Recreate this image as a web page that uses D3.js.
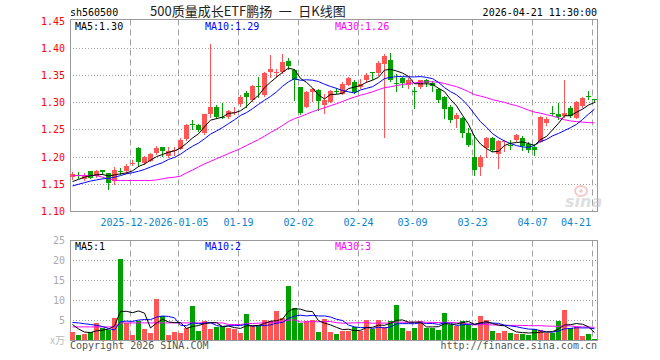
<!DOCTYPE html>
<html>
<head>
<meta charset="utf-8">
<script src="https://cdn.jsdelivr.net/npm/d3@7"></script>
<style>
  body { margin: 0; background: #fff; }
  text { font-family: "DejaVu Sans Mono", monospace; font-size: 10px; }
</style>
</head>
<body>
<svg id="chart" width="660" height="360"></svg>
<script>
// trading days shown on the chart
const dates = [
  '2025-12-08','2025-12-09','2025-12-10','2025-12-11','2025-12-12',
  '2025-12-15','2025-12-16','2025-12-17','2025-12-18','2025-12-19',
  '2025-12-22','2025-12-23','2025-12-24','2025-12-25','2025-12-26',
  '2025-12-29','2025-12-30','2025-12-31',
  '2026-01-05','2026-01-06','2026-01-07','2026-01-08','2026-01-09',
  '2026-01-12','2026-01-13','2026-01-14','2026-01-15','2026-01-16',
  '2026-01-19','2026-01-20','2026-01-21','2026-01-22','2026-01-23',
  '2026-01-26','2026-01-27','2026-01-28','2026-01-29','2026-01-30',
  '2026-02-02','2026-02-03','2026-02-04','2026-02-05','2026-02-06',
  '2026-02-09','2026-02-10','2026-02-11','2026-02-12','2026-02-13',
  '2026-02-24','2026-02-25','2026-02-26','2026-02-27',
  '2026-03-02','2026-03-03','2026-03-04','2026-03-05','2026-03-06',
  '2026-03-09','2026-03-10','2026-03-11','2026-03-12','2026-03-13',
  '2026-03-16','2026-03-17','2026-03-18','2026-03-19','2026-03-20',
  '2026-03-23','2026-03-24','2026-03-25','2026-03-26','2026-03-27',
  '2026-03-30','2026-03-31','2026-04-01','2026-04-02','2026-04-03',
  '2026-04-07','2026-04-08','2026-04-09','2026-04-10',
  '2026-04-13','2026-04-14','2026-04-15','2026-04-16','2026-04-17',
  '2026-04-20','2026-04-21'
];

const open = [
  1.164,1.167,1.160,1.174,1.164,1.176,1.170,1.155,1.174,1.173,
  1.189,1.217,1.189,1.194,1.207,1.218,1.202,1.212,1.216,1.233,
  1.260,1.259,1.245,1.279,1.292,1.2745,1.2732,1.283,1.2977,1.3185,
  1.3062,1.330,1.3142,1.3552,1.3565,1.357,1.3766,1.360,1.3283,1.2928,
  1.3185,1.3234,1.2958,1.302,1.3218,1.3169,1.334,1.338,1.329,1.341,
  1.3555,1.355,1.372,1.379,1.337,1.345,1.332,1.321,1.329,1.341,
  1.336,1.3247,1.311,1.2928,1.2696,1.2712,1.2439,1.2003,1.1821,1.2163,
  1.2348,1.205,1.2282,1.2215,1.2318,1.2348,1.2245,1.2185,1.2288,1.2621,
  1.2815,1.2791,1.2761,1.2894,1.273,1.2936,1.3125,1.3058
];
const high = [
  1.173,1.173,1.170,1.175,1.176,1.177,1.171,1.181,1.180,1.188,
  1.195,1.218,1.202,1.208,1.221,1.219,1.218,1.219,1.235,1.260,
  1.268,1.260,1.280,1.408,1.296,1.300,1.287,1.292,1.3136,1.3222,
  1.3326,1.3479,1.357,1.3876,1.3613,1.3895,1.3815,1.3613,1.3295,1.3215,
  1.3264,1.3246,1.316,1.3234,1.326,1.338,1.348,1.341,1.344,1.354,
  1.3555,1.376,1.390,1.392,1.353,1.347,1.346,1.328,1.342,1.344,
  1.340,1.326,1.312,1.295,1.2806,1.2733,1.2531,1.240,1.203,1.2377,
  1.236,1.2318,1.2318,1.2312,1.2427,1.2385,1.227,1.2245,1.2752,1.2742,
  1.2936,1.2985,1.3409,1.2936,1.3027,1.310,1.3215,1.3076
];
const low = [
  1.160,1.161,1.158,1.161,1.163,1.169,1.142,1.151,1.168,1.171,
  1.186,1.184,1.188,1.192,1.206,1.202,1.201,1.204,1.214,1.231,
  1.251,1.247,1.243,1.273,1.271,1.271,1.272,1.279,1.294,1.2928,
  1.3038,1.3111,1.3124,1.3479,1.3479,1.355,1.3613,1.305,1.2793,1.2916,
  1.3038,1.287,1.2805,1.3007,1.317,1.3157,1.332,1.317,1.326,1.338,
  1.344,1.350,1.237,1.340,1.322,1.328,1.326,1.290,1.327,1.330,
  1.322,1.302,1.271,1.264,1.256,1.2377,1.2206,1.1664,1.1664,1.1998,
  1.212,1.180,1.2106,1.2155,1.230,1.2136,1.210,1.2045,1.227,1.2591,
  1.2773,1.2694,1.2742,1.273,1.2718,1.2924,1.3076,1.3003
];
const close = [
  1.169,1.166,1.166,1.162,1.174,1.172,1.152,1.176,1.172,1.183,
  1.190,1.192,1.200,1.206,1.216,1.210,1.212,1.213,1.232,1.259,
  1.259,1.250,1.279,1.292,1.273,1.273,1.2848,1.2836,1.3111,1.3111,
  1.3313,1.329,1.3552,1.3613,1.3571,1.3754,1.368,1.3417,1.2805,1.3203,
  1.3246,1.3038,1.305,1.3215,1.3212,1.3349,1.346,1.320,1.335,1.351,
  1.354,1.373,1.386,1.342,1.336,1.335,1.342,1.319,1.341,1.336,
  1.331,1.305,1.2886,1.2687,1.2775,1.2439,1.2227,1.176,1.2003,1.2347,
  1.2136,1.229,1.229,1.2208,1.2409,1.2197,1.2136,1.2124,1.2742,1.2694,
  1.2803,1.2742,1.2815,1.2742,1.3015,1.3088,1.3118,1.305
];
// volume, in 10k lots
const volume = [
  2.2,1.5,1.7,2.2,4.4,3.2,2.6,5.75,20.5,4.4,
  1.5,4.8,3.0,2.0,10.5,6.2,1.5,2.2,2.0,3.2,
  8.7,2.5,4.8,3.0,3.4,3.7,3.2,2.8,2.0,6.7,
  3.7,3.7,5.2,4.8,7.3,5.7,13.7,8.2,4.3,4.8,
  5.2,2.1,5.3,2.1,1.7,2.5,2.5,3.5,2.5,5.2,
  2.8,5.2,3.3,5.0,9.0,3.2,2.5,3.2,4.9,3.2,
  3.2,2.75,7.0,4.0,3.7,4.9,4.2,3.2,6.2,5.2,
  2.5,2.0,2.5,2.0,1.7,1.7,1.5,2.8,2.7,2.0,
  2.0,4.9,7.75,3.2,3.3,1.2,1.7,0.5
];

// moving-average values before a full window exists
const ma5Head = [1.155,1.159,1.163,1.166];
const ma10Head = [1.147,1.150,1.153,1.156,1.158,1.160,1.161,1.163,1.166];
const ma30Head = [
  1.166,1.166,1.166,1.166,1.166,1.163,1.160,1.157,1.157,1.157,
  1.157,1.157,1.157,1.157,1.158,1.160,1.162,1.163,1.165,1.171,
  1.176,1.182,1.1875,1.192,1.197,1.2016,1.2065,1.211,1.2157
];
const volMa5Head = [4.0,2.9,2.1,2.0];
const volMa10Head = [4.5,4.4,4.2,4.0,3.8,3.5,3.0,2.6,4.7];
const volMa30Head = [
  3.4,3.4,3.4,3.4,3.4,3.4,3.4,3.4,4.4,4.4,
  4.4,4.4,4.4,4.4,4.4,4.4,4.4,4.4,4.4,4.4,
  4.4,4.4,4.4,4.4,4.4,4.4,4.0,4.0,4.0
];

const priceTicks = [1.10,1.15,1.20,1.25,1.30,1.35,1.40,1.45];
const volTicks = [5,10,15,20,25];
const tickDates = ['2025-12-22','2026-01-05','2026-01-19','2026-02-02','2026-02-24',
                   '2026-03-09','2026-03-23','2026-04-07','2026-04-21'];
const tickLabels = ['2025-12-22','2026-01-05','01-19','02-02','02-24',
                    '03-09','03-23','04-07','04-21'];

const RED = '#ff5555', GREEN = '#00a200', GRID = '#a0a0a0';

function movingAvg(vals, n, head) {
    return vals.map((v, i) => i < head.length ? head[i] : d3.mean(vals.slice(i - n + 1, i + 1)));
}

const svg = d3.select('#chart');
const left = 70, right = 597;
const n = dates.length;

// x gives the left edge of each candle slot
const x = d3.scaleLinear().domain([0, n - 1]).range([left, 592]);
const bodyW = 5;
const cx = i => x(i) + 2.5;

const y = d3.scaleLinear().domain([1.10, 1.45]).range([211.5, 21]);
const yv = d3.scaleLinear().domain([0, 25]).range([340.5, 240.5]);
const px = v => Math.round(v - 0.5) + 0.5;

const isUp = i => close[i] >= open[i];
const idx = d3.range(n);
const tickIdx = tickDates.map(d => dates.indexOf(d));

// ---------- header ----------
svg.append('text').attr('x', 70).attr('y', 16).attr('fill', '#000').text('sh560500');
svg.append('text').attr('x', 150).attr('y', 16)
    .style('font-family', '"Noto Sans CJK SC", sans-serif').style('font-size', '13px')
    .attr('fill', '#222').text('500质量成长ETF鹏扬\u2002一\u2002日K线图');
svg.append('text').attr('x', 597).attr('y', 16).attr('text-anchor', 'end')
    .attr('fill', '#000').text('2026-04-21 11:30:00');

// ---------- panels (grid + frame) ----------
function panel(top, bottom, ys, ticks) {
    const g = svg.append('g');
    g.selectAll('.hgrid').data(ticks).enter().append('line')
        .attr('x1', left).attr('x2', right + 1)
        .attr('y1', d => px(ys(d))).attr('y2', d => px(ys(d)))
        .attr('stroke', GRID).attr('stroke-dasharray', '1,2');
    g.selectAll('.vgrid').data(tickIdx).enter().append('line')
        .attr('x1', i => x(i) + 0.5).attr('x2', i => x(i) + 0.5)
        .attr('y1', top).attr('y2', bottom)
        .attr('stroke', GRID).attr('stroke-dasharray', '6,4');
    g.append('rect').attr('x', left + 0.5).attr('y', top)
        .attr('width', right - left).attr('height', bottom - top)
        .attr('fill', 'none').attr('stroke', '#999');
    return g;
}
panel(19.5, 211.5, y, priceTicks.filter(t => t > 1.10 && t < 1.45));
panel(240.5, 340.5, yv, volTicks.filter(t => t < 25));

// price axis labels
svg.selectAll('.plab').data(priceTicks).enter().append('text')
    .attr('x', 65).attr('y', d => y(d) + 3.5).attr('text-anchor', 'end')
    .attr('fill', '#ff0000').text(d => d3.format('.2f')(d));

// volume axis labels
svg.selectAll('.vlab').data(volTicks).enter().append('text')
    .attr('x', 65).attr('y', d => yv(d) + 3.5).attr('text-anchor', 'end')
    .attr('fill', '#aaa').text(d => d);
svg.append('text').attr('x', 65).attr('y', 344).attr('text-anchor', 'end')
    .style('font-family', '"Noto Sans CJK SC", sans-serif').style('font-size', '10px')
    .attr('fill', '#bbb').text('x万');

// date labels: each one sits on a white box, so a later label hides the tail of an earlier one
const dateAxis = svg.append('g');
tickIdx.forEach((i, k) => {
    const lg = dateAxis.append('g');
    const bg = lg.append('rect').attr('fill', '#fff');
    const t = lg.append('text').attr('y', 225.5).attr('fill', '#0a84d0')
        .attr('text-anchor', 'middle').text(tickLabels[k]);
    const half = t.node().getComputedTextLength() / 2;
    const tx = Math.min(x(i) + 0.5, 591 - half);
    t.attr('x', tx);
    bg.attr('x', tx - half).attr('y', 216).attr('width', half * 2).attr('height', 12);
});

// ---------- sina watermark ----------
const wm = svg.append('g').attr('opacity', 0.45);
wm.append('ellipse').attr('cx', 581).attr('cy', 191).attr('rx', 6).attr('ry', 5)
    .attr('fill', 'none').attr('stroke', '#f08a8a').attr('stroke-width', 2);
wm.append('circle').attr('cx', 581).attr('cy', 191).attr('r', 1.8).attr('fill', '#f08a8a');
wm.append('text').attr('x', 565).attr('y', 207)
    .style('font-family', '"DejaVu Sans", sans-serif').style('font-size', '16px')
    .style('font-style', 'italic').style('font-weight', 'bold')
    .attr('fill', '#b8b8b8').text('sina');

// ---------- candles ----------
const candles = svg.append('g');
candles.selectAll('.wick').data(idx).enter().append('line')
    .attr('x1', cx).attr('x2', cx)
    .attr('y1', i => Math.round(y(high[i]))).attr('y2', i => Math.round(y(low[i])) + 1)
    .attr('stroke', i => isUp(i) ? RED : GREEN);
candles.selectAll('.body').data(idx).enter().append('rect')
    .attr('x', i => x(i)).attr('width', bodyW)
    .attr('y', i => Math.round(y(Math.max(open[i], close[i]))))
    .attr('height', i => Math.max(1, Math.round(Math.abs(y(open[i]) - y(close[i])))))
    .attr('fill', i => isUp(i) ? RED : GREEN);

// price moving averages
const ma5 = movingAvg(close, 5, ma5Head);
const ma10 = movingAvg(close, 10, ma10Head);
const ma30 = movingAvg(close, 30, ma30Head);
const priceLine = d3.line().x((d, i) => cx(i)).y(d => y(d));
[[ma30, '#ff00ff'], [ma10, '#0000ff'], [ma5, '#000']].forEach(([s, c]) => {
    svg.append('path').datum(s).attr('d', priceLine)
        .attr('fill', 'none').attr('stroke', c).attr('stroke-width', 1);
});

// price legend
const fmt2 = d3.format('.2f');
svg.append('text').attr('x', 75).attr('y', 30).attr('fill', '#000').text('MA5:' + fmt2(ma5[n - 1]));
svg.append('text').attr('x', 205).attr('y', 30).attr('fill', '#0000ff').text('MA10:' + fmt2(ma10[n - 1]));
svg.append('text').attr('x', 335).attr('y', 30).attr('fill', '#ff00ff').text('MA30:' + fmt2(ma30[n - 1]));

// ---------- volume ----------
svg.append('g').selectAll('rect').data(idx).enter().append('rect')
    .attr('x', i => x(i)).attr('width', bodyW)
    .attr('y', i => Math.round(yv(volume[i])))
    .attr('height', i => 340 - Math.round(yv(volume[i])))
    .attr('fill', i => isUp(i) ? RED : GREEN);

const vma5 = movingAvg(volume, 5, volMa5Head);
const vma10 = movingAvg(volume, 10, volMa10Head);
const vma30 = movingAvg(volume, 30, volMa30Head);
const volLine = d3.line().x((d, i) => cx(i)).y(d => yv(d));
[[vma30, '#ff00ff'], [vma10, '#0000ff'], [vma5, '#000']].forEach(([s, c]) => {
    svg.append('path').datum(s).attr('d', volLine)
        .attr('fill', 'none').attr('stroke', c).attr('stroke-width', 1);
});

svg.append('text').attr('x', 75).attr('y', 250).attr('fill', '#000').text('MA5:' + Math.floor(vma5[n - 1]));
svg.append('text').attr('x', 205).attr('y', 250).attr('fill', '#0000ff').text('MA10:' + Math.floor(vma10[n - 1]));
svg.append('text').attr('x', 335).attr('y', 250).attr('fill', '#ff00ff').text('MA30:' + Math.floor(vma30[n - 1]));

// ---------- footer ----------
svg.append('text').attr('x', 70).attr('y', 349).attr('fill', '#555').text('Copyright 2026 SINA.COM');
svg.append('text').attr('x', 597).attr('y', 349).attr('text-anchor', 'end')
    .attr('fill', '#555').text('http://finance.sina.com.cn');
</script>
</body>
</html>
